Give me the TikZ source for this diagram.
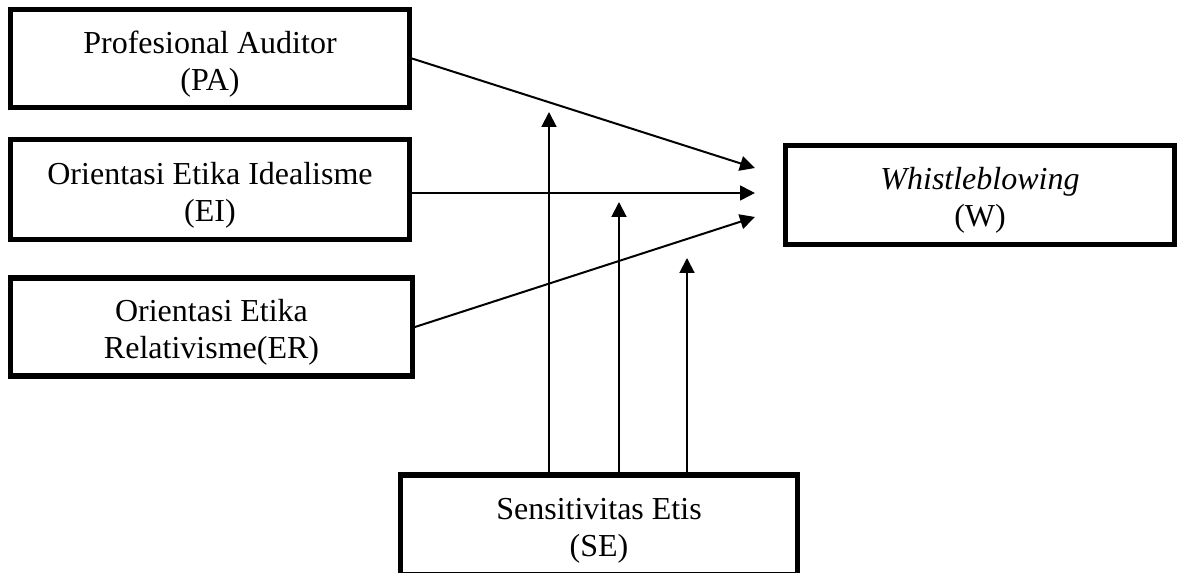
\documentclass[tikz,border=0pt]{standalone}
\usepackage{fontspec}
\setmainfont{Liberation Serif}
\usetikzlibrary{arrows.meta}
\usetikzlibrary{calc}

\newcommand{\boxstrut}{\rule{0pt}{12.5pt}}

\tikzset{
    varbox/.style = {draw = black, line width = 1.9pt, align = center,
        inner sep = 0pt, font = \fontsize{12}{13.8}\selectfont},
    flow/.style = {line width = 0.75pt,
        -{Triangle[length = 5.6pt, width = 5.6pt]}}
}

\begin{document}
\begin{tikzpicture}[x = 0.375pt, y = -0.375pt]
            \useasboundingbox (0,0) rectangle (1178,573);

            \node[varbox,
            minimum width = 149.6pt,
            minimum height = 36.75pt] (pa) at (210,58.5) {\boxstrut Profesional Auditor\\(PA)};

            \node[varbox,
            minimum width = 149.6pt,
            minimum height = 37.5pt] (ei) at (210,189.5) {\boxstrut Orientasi Etika Idealisme\\(EI)};

            \node[varbox,
            minimum width = 150.7pt,
            minimum height = 36.75pt] (er) at (211.5,327) {\boxstrut Orientasi Etika\\Relativisme(ER)};

            \node[varbox,
            minimum width = 145.9pt,
            minimum height = 37.1pt] (w) at (980,195) {\boxstrut\textit{Whistleblowing}\\(W)};

            \node[varbox,
            minimum width = 148.9pt,
            minimum height = 37.5pt] (se) at (599,525) {\boxstrut Sensitivitas Etis\\(SE)};

            % arrow ends in front of W
            \coordinate (in_pa) at ($(w.west)+(-28,-27)$);
            \coordinate (in_ei) at ($(w.west)+(-28,-2)$);
            \coordinate (in_er) at ($(w.west)+(-28,22)$);

            % moderation arrow tips
            \coordinate (mod_pa) at (549,112);
            \coordinate (mod_ei) at (619,202);
            \coordinate (mod_er) at (687,258);

            \draw[flow] (pa.east) -- (in_pa);
            \draw[flow] (ei.east |- in_ei) -- (in_ei);
            \draw[flow] (er.east) -- (in_er);

            \draw[flow] (se.north -| mod_pa) -- (mod_pa);
            \draw[flow] (se.north -| mod_ei) -- (mod_ei);
            \draw[flow] (se.north -| mod_er) -- (mod_er);
        \end{tikzpicture}
\end{document}
